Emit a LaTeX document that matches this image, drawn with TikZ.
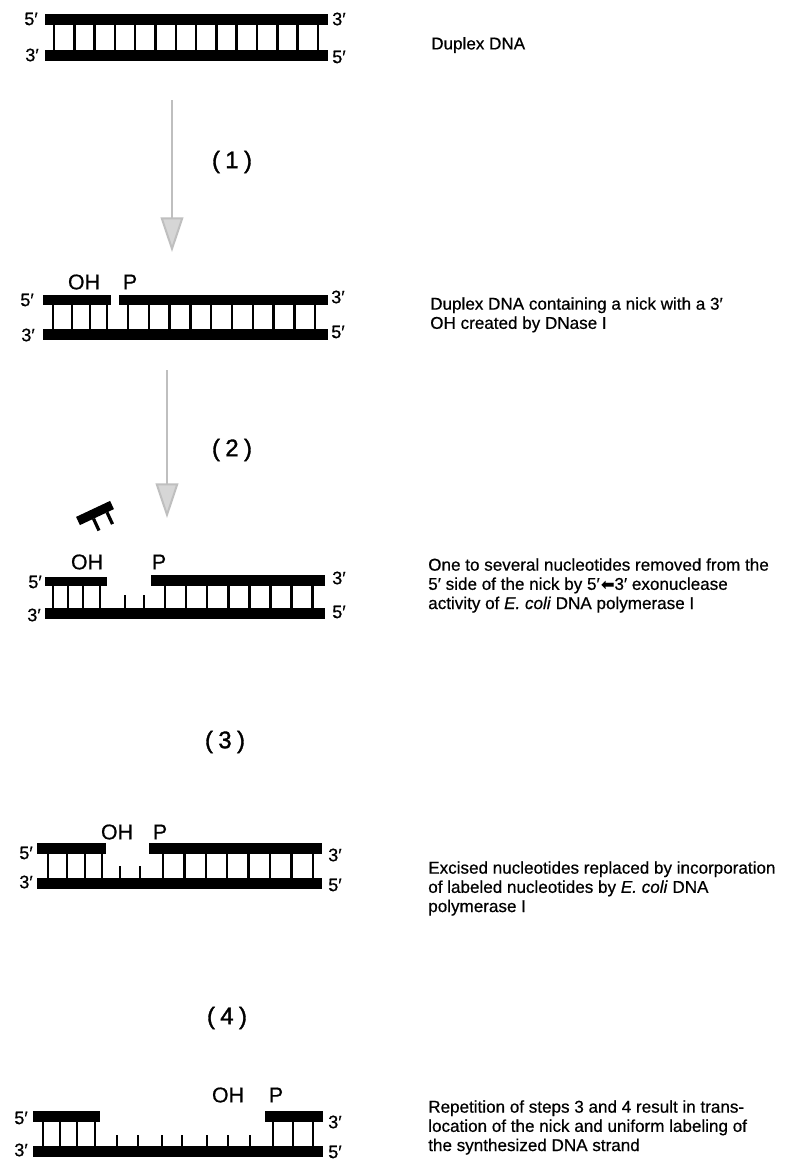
\documentclass[tikz,border=0pt]{standalone}
\usepackage{fontspec}
\setmainfont{Liberation Sans}[FakeBold=0.6]
\newfontfamily\symf{DejaVu Sans}[FakeBold=0.6]
\newfontfamily\stepf{Liberation Sans}[FakeBold=1.4]
\usetikzlibrary{arrows.meta}
\begin{document}
\begin{tikzpicture}[x=0.75pt,y=-0.75pt,
  rung/.style={line width=1.9pt},
  endlab/.style={inner sep=0pt,font=\fontsize{13.5}{13.5}\selectfont},
  nicklab/.style={inner sep=0pt,font=\fontsize{16}{16}\selectfont},
  steplab/.style={inner sep=0pt,font=\stepf\fontsize{18}{18}\selectfont},
  desc/.style={inner sep=0pt,anchor=north west,align=left,font=\fontsize{12.8}{14.4}\selectfont},
  fadearrow/.style={draw=black!25,line width=1.5pt,-{Triangle[width=17pt,length=26pt,fill=black!16]}}]
\useasboundingbox (0,0) rectangle (785,1171);
\fill[white] (0,0) rectangle (785,1171);

% ---------- Diagram 1 ----------
\fill (45,14) rectangle (328,25);
\fill (45,50) rectangle (328,61);
\foreach \i in {0,...,13} \draw[rung] ({54+20.3*\i},25) -- ({54+20.3*\i},50);
\node[endlab,anchor=east] (d1a) at (38,19) {5′};
\node[endlab,anchor=east] (d1b) at (39,55) {3′};
\node[endlab,anchor=west] (d1c) at (332,19) {3′};
\node[endlab,anchor=west] (d1d) at (332,57) {5′};
\node[desc,anchor=west] (t1) at (431,45) {Duplex DNA};

% arrow 1
\coordinate (a1s) at (172,100);
\coordinate (a1e) at (172,252);
\draw[fadearrow] (a1s) -- (a1e);
\node[steplab] (s1) at (232,162) {(\kern4pt1\kern4pt)};

% ---------- Diagram 2 ----------
\fill (43,295) rectangle (111,305);
\fill (119,295) rectangle (328,305);
\fill (43,329) rectangle (328,340);
\foreach \x in {53,72,90,107} \draw[rung] (\x,305) -- (\x,329);
\foreach \i in {0,...,9} \draw[rung] ({128+20.8*\i},305) -- ({128+20.8*\i},329);
\node[nicklab] (oh2) at (84,282) {OH};
\node[nicklab] (p2) at (130,282) {P};
\node[endlab,anchor=east] (d2a) at (34,300) {5′};
\node[endlab,anchor=east] (d2b) at (35,335) {3′};
\node[endlab,anchor=west] (d2c) at (331,297) {3′};
\node[endlab,anchor=west] (d2d) at (331,332) {5′};
\node[desc] (t2) at (430,297) {Duplex DNA containing a nick with a 3′\\OH created by DNase I};

% arrow 2
\coordinate (a2s) at (167,370);
\coordinate (a2e) at (167,518);
\draw[fadearrow] (a2s) -- (a2e);
\node[steplab] (s2) at (232,450) {(\kern4pt2\kern4pt)};

% ---------- Diagram 3 ----------
% enzyme
\fill (76.1,516.9) -- (110.1,500.9) -- (113.9,509.1) -- (79.9,525.1) -- cycle;
\draw[line width=2.4pt] (93.5,518.7) -- (99.0,530.5);
\draw[line width=2.4pt] (107.0,512.3) -- (112.5,524.1);
\fill (45,577) rectangle (107,586);
\fill (151,575) rectangle (325,586);
\fill (45,608) rectangle (325,619);
\foreach \x in {53,68,83,100} \draw[rung] (\x,586) -- (\x,608);
\foreach \x in {125,144} \draw[rung] (\x,595) -- (\x,608);
\foreach \i in {0,...,7} \draw[rung] ({165+21.1*\i},586) -- ({165+21.1*\i},608);
\node[nicklab] (oh3) at (87,562) {OH};
\node[nicklab] (p3) at (159,562) {P};
\node[endlab,anchor=east] (d3a) at (42,582) {5′};
\node[endlab,anchor=east] (d3b) at (41,615) {3′};
\node[endlab,anchor=west] (d3c) at (332,578) {3′};
\node[endlab,anchor=west] (d3d) at (332,612) {5′};
\node[desc] (t3) at (428,558) {One to several nucleotides removed from the\\5′ side of the nick by 5′{\symf\kern1pt\fontsize{12}{12}\selectfont ⬅}3′ exonuclease\\activity of \emph{E. coli} DNA polymerase I};

\node[steplab] (s3) at (225,742) {(\kern4pt3\kern4pt)};

% ---------- Diagram 4 ----------
\fill (37,843) rectangle (106,854);
\fill (149,843) rectangle (322,854);
\fill (37,878) rectangle (322,889);
\foreach \x in {48,67,85,102} \draw[rung] (\x,854) -- (\x,878);
\foreach \x in {120,140} \draw[rung] (\x,866) -- (\x,878);
\foreach \i in {0,...,7} \draw[rung] ({163+21.4*\i},854) -- ({163+21.4*\i},878);
\node[nicklab] (oh4) at (117,832) {OH};
\node[nicklab] (p4) at (160,832) {P};
\node[endlab,anchor=east] (d4a) at (33,853) {5′};
\node[endlab,anchor=east] (d4b) at (33,882) {3′};
\node[endlab,anchor=west] (d4c) at (328,855) {3′};
\node[endlab,anchor=west] (d4d) at (328,885) {5′};
\node[desc] (t4) at (428,861) {Excised nucleotides replaced by incorporation\\of labeled nucleotides by \emph{E. coli} DNA\\polymerase I};

\node[steplab] (s4) at (227,1018) {(\kern4pt4\kern4pt)};

% ---------- Diagram 5 ----------
\fill (33,1111) rectangle (100,1122);
\fill (265,1111) rectangle (323,1122);
\fill (33,1146) rectangle (323,1157);
\foreach \x in {43,60,77,95} \draw[rung] (\x,1122) -- (\x,1146);
\foreach \x in {117,138,162,182,207,228,250} \draw[rung] (\x,1135) -- (\x,1146);
\foreach \x in {273,293,313} \draw[rung] (\x,1122) -- (\x,1146);
\node[nicklab] (oh5) at (228,1095) {OH};
\node[nicklab] (p5) at (276,1095) {P};
\node[endlab,anchor=east] (d5a) at (28,1118) {5′};
\node[endlab,anchor=east] (d5b) at (28,1150) {3′};
\node[endlab,anchor=west] (d5c) at (328,1122) {3′};
\node[endlab,anchor=west] (d5d) at (328,1152) {5′};
\node[desc] (t5) at (428,1100) {Repetition of steps 3 and 4 result in trans-\\location of the nick and uniform labeling of\\the synthesized DNA strand};
\end{tikzpicture}
\end{document}
